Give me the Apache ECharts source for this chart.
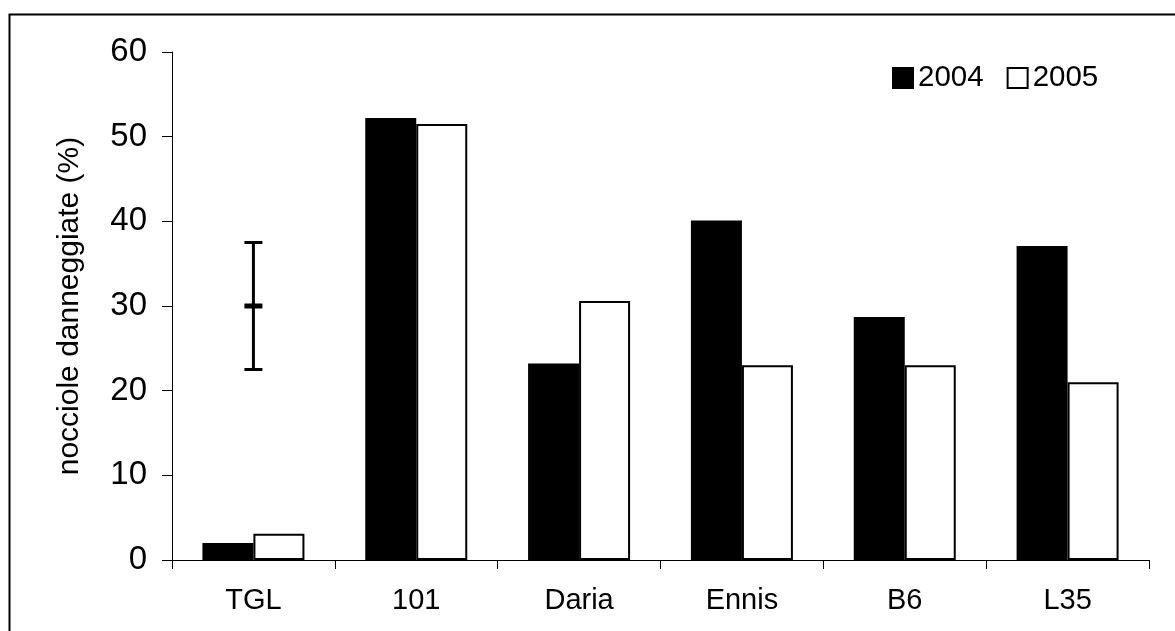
<!DOCTYPE html>
<html>
<head>
<meta charset="utf-8">
<script src="https://cdn.jsdelivr.net/npm/echarts@6/dist/echarts.min.js"></script>
<style>
html,body{margin:0;padding:0;background:#fff;}
#chart{width:1175px;height:631px;}
</style>
</head>
<body>
<div id="chart"></div>
<script>
var categories = ['TGL', '101', 'Daria', 'Ennis', 'B6', 'L35'];
var values2004 = [2.0, 52.2, 23.2, 40.1, 28.7, 37.1];
var values2005 = [3.1, 51.5, 30.6, 23.0, 23.0, 21.0];
// error bar reference: [category index, low, high, mean]
var errorBar = [[0, 22.5, 37.5, 30]];
var yTicks = { min: 0, max: 60, interval: 10 };

var FONT = 'Liberation Sans, Arial, sans-serif';
var chart = echarts.init(document.getElementById('chart'));
chart.setOption({
  animation: false,
  backgroundColor: '#fff',
  graphic: [{
    type: 'rect', left: 7, top: 12, silent: true,
    shape: { width: 1300, height: 800 },
    style: { fill: 'none', stroke: '#000', lineWidth: 2 }
  }],
  legend: {
    left: 887, top: 58,
    itemWidth: 20, itemHeight: 20, itemGap: 23,
    textStyle: { fontFamily: FONT, fontSize: 29.5, color: '#000' },
    data: [
      { name: '2004', icon: 'rect', itemStyle: { color: '#000', borderColor: '#000', borderWidth: 2 } },
      { name: '2005', icon: 'rect', itemStyle: { color: '#fff', borderColor: '#000', borderWidth: 2 } }
    ]
  },
  grid: { left: 172, top: 52, right: 26, bottom: 71, containLabel: false },
  xAxis: {
    type: 'category',
    data: categories,
    axisLine: { lineStyle: { color: '#000', width: 1 } },
    axisTick: { show: true, length: 9, alignWithLabel: false, lineStyle: { color: '#000' } },
    axisLabel: { fontFamily: FONT, fontSize: 29, color: '#000', margin: 26 }
  },
  yAxis: {
    type: 'value',
    min: yTicks.min, max: yTicks.max, interval: yTicks.interval,
    name: 'nocciole danneggiate (%)',
    nameLocation: 'middle',
    nameGap: 87,
    nameTextStyle: { fontFamily: FONT, fontSize: 30, color: '#000' },
    axisLine: { show: true, lineStyle: { color: '#000', width: 1 } },
    axisTick: { show: true, length: 10, lineStyle: { color: '#000' } },
    splitLine: { show: false },
    axisLabel: { fontFamily: FONT, fontSize: 33, color: '#000', margin: 25 }
  },
  series: [
    {
      name: '2004', type: 'bar', data: values2004,
      barWidth: 51, barGap: '0%',
      itemStyle: { color: '#000', borderColor: '#000', borderWidth: 2 }
    },
    {
      name: '2005', type: 'bar', data: values2005,
      barWidth: 51, barGap: '0%',
      itemStyle: { color: '#fff', borderColor: '#000', borderWidth: 2 }
    },
    {
      name: 'err', type: 'custom', data: errorBar, z: 10,
      renderItem: function (params, api) {
        var x = api.value(0);
        var lo = api.coord([x, api.value(1)]);
        var hi = api.coord([x, api.value(2)]);
        var mid = api.coord([x, api.value(3)]);
        var hw = 9;
        var st = { stroke: '#000', lineWidth: 3 };
        return {
          type: 'group',
          children: [
            { type: 'line', shape: { x1: lo[0], y1: lo[1], x2: hi[0], y2: hi[1] }, style: st },
            { type: 'line', shape: { x1: lo[0] - hw, y1: lo[1], x2: lo[0] + hw, y2: lo[1] }, style: st },
            { type: 'line', shape: { x1: hi[0] - hw, y1: hi[1], x2: hi[0] + hw, y2: hi[1] }, style: st },
            { type: 'line', shape: { x1: mid[0] - hw, y1: mid[1], x2: mid[0] + hw, y2: mid[1] }, style: { stroke: '#000', lineWidth: 5 } }
          ]
        };
      }
    }
  ]
});
</script>
</body>
</html>
